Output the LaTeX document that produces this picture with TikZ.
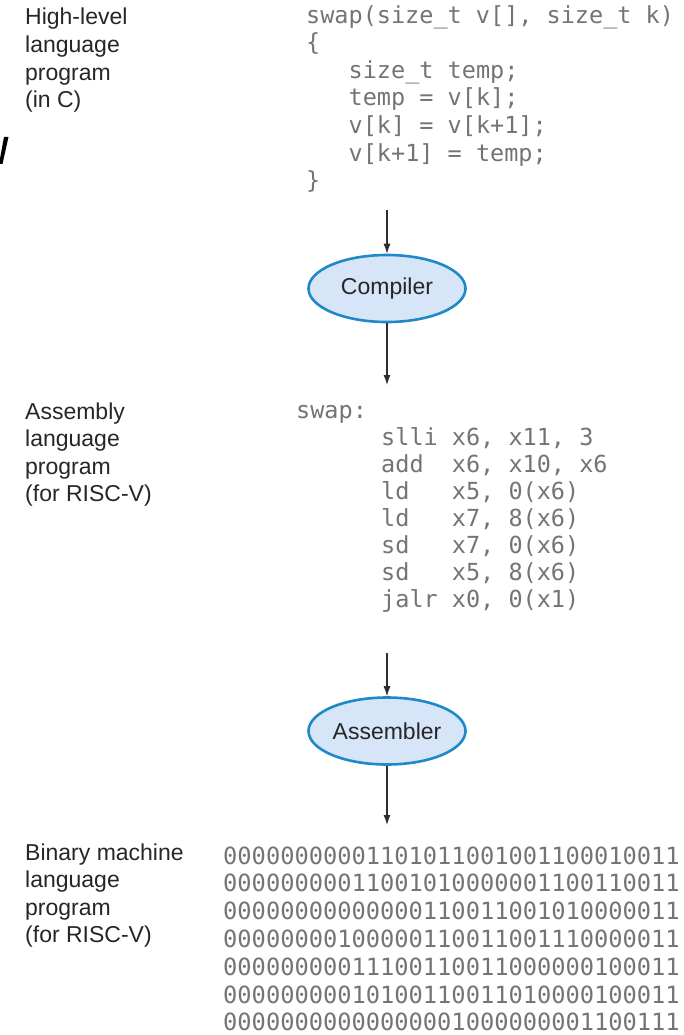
\documentclass[tikz,border=0pt]{standalone}
\usepackage{fontspec}
\usetikzlibrary{shapes.geometric,arrows.meta}
\newfontfamily\labfam{Liberation Sans}
\newfontfamily\codefam{DejaVu Sans Mono}
\newcommand\labfont{\labfam\fontsize{23}{27.6}\selectfont}
\newcommand\codefont{\codefam\fontsize{23.5}{27.5}\selectfont}
\newcommand\binfont{\codefam\fontsize{23.7}{28}\selectfont}
\definecolor{labgray}{HTML}{262626}
\definecolor{codegray}{HTML}{747474}
\definecolor{procblue}{HTML}{1E88C8}
\definecolor{procfill}{HTML}{D6E6F8}
\definecolor{arrowgray}{HTML}{2E2E2E}
\tikzset{
  lab/.style={anchor=base west, inner sep=0pt, font=\labfont, text=labgray},
  code/.style={anchor=base west, inner sep=0pt, font=\codefont, text=codegray},
  bits/.style={anchor=base west, inner sep=0pt, font=\binfont, text=codegray},
  proc/.style={ellipse, draw=procblue, fill=procfill, line width=2.6pt,
    minimum width=157pt, minimum height=67pt, inner sep=0pt,
    font=\labfont, text=labgray},
  flow/.style={draw=arrowgray, line width=1.1pt,
    -{Latex[length=10pt,width=7pt]}}
}
\begin{document}
\begin{tikzpicture}[x=1pt,y=-1pt]
\useasboundingbox (0,0) rectangle (683,1035);

% stray pen stroke at the left edge
\fill[black] (4,137) -- (8.5,137) -- (2.5,164) -- (-1,164) -- cycle;

% ---- high-level language level ----
\node[lab] (hl1) at (25,25) {High-level};
\node[lab] (hl2) at (25,52.6) {language};
\node[lab] (hl3) at (25,80.2) {program};
\node[lab] (hl4) at (25,107.8) {(in C)};

\node[code] (c1) at (306,23.5) {swap(size\_t v[], size\_t k)};
\node[code] (c2) at (306,51) {\{};
\node[code] (c3) at (348.5,78.5) {size\_t temp;};
\node[code] (c4) at (348.5,106) {temp = v[k];};
\node[code] (c5) at (348.5,133.5) {v[k] = v[k+1];};
\node[code] (c6) at (348.5,161) {v[k+1] = temp;};
\node[code] (c7) at (306,188.5) {\}};

% ---- compiler ----
\coordinate (s1) at (387,210);
\node[proc] (comp) at (387,288.5) {Compiler};
\coordinate (e1) at (387,385);
\draw[flow] (s1) -- (comp.north);
\draw[flow] (comp.south) -- (e1);

% ---- assembly language level ----
\node[lab] (al1) at (25,419) {Assembly};
\node[lab] (al2) at (25,446.6) {language};
\node[lab] (al3) at (25,474.2) {program};
\node[lab] (al4) at (25,501.8) {(for RISC-V)};

\node[code] (a1) at (296,418) {swap:};
\node[code] (a2) at (381,445) {slli x6, x11, 3};
\node[code] (a3) at (381,472) {add~~x6, x10, x6};
\node[code] (a4) at (381,499) {ld~~~x5, 0(x6)};
\node[code] (a5) at (381,526) {ld~~~x7, 8(x6)};
\node[code] (a6) at (381,553) {sd~~~x7, 0(x6)};
\node[code] (a7) at (381,580) {sd~~~x5, 8(x6)};
\node[code] (a8) at (381,607) {jalr x0, 0(x1)};

% ---- assembler ----
\coordinate (s2) at (387,653);
\node[proc] (asm) at (387,731) {Assembler};
\coordinate (e2) at (387,825);
\draw[flow] (s2) -- (asm.north);
\draw[flow] (asm.south) -- (e2);

% ---- binary machine language level ----
\node[lab] (bl1) at (25,860) {Binary machine};
\node[lab] (bl2) at (25,887.6) {language};
\node[lab] (bl3) at (25,915.2) {program};
\node[lab] (bl4) at (25,942.8) {(for RISC-V)};

\node[bits] (b1) at (223,864) {00000000001101011001001100010011};
\node[bits] (b2) at (223,891.8) {00000000011001010000001100110011};
\node[bits] (b3) at (223,919.6) {00000000000000110011001010000011};
\node[bits] (b4) at (223,947.4) {00000000100000110011001110000011};
\node[bits] (b5) at (223,975.2) {00000000011100110011000000100011};
\node[bits] (b6) at (223,1003) {00000000010100110011010000100011};
\node[bits] (b7) at (223,1030.8) {00000000000000001000000001100111};
\end{tikzpicture}
\end{document}
